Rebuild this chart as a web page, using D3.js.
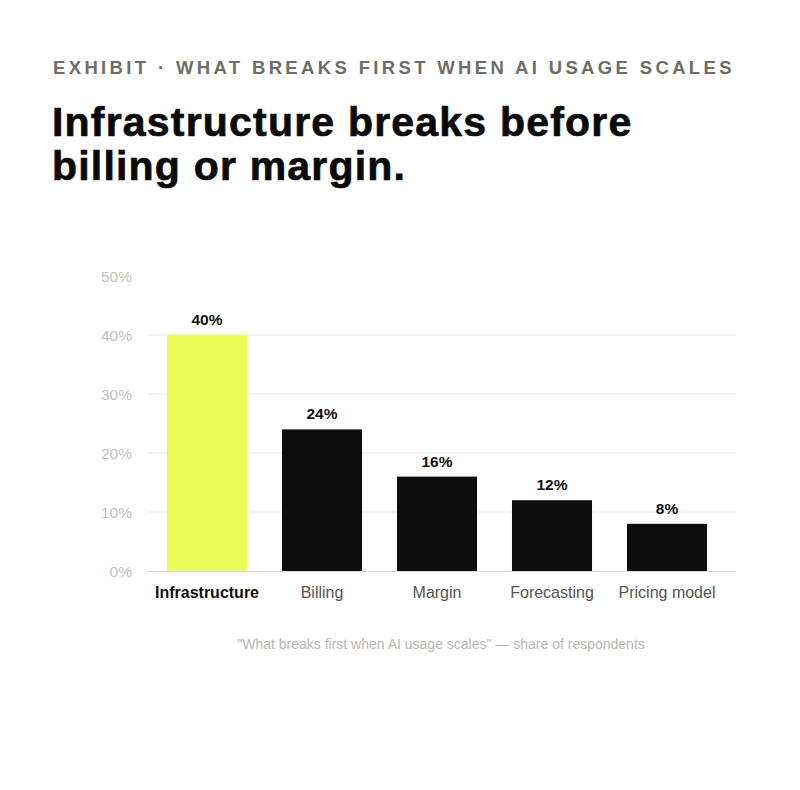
<!DOCTYPE html>
<html><head><meta charset="utf-8">
<script src="https://cdn.jsdelivr.net/npm/d3@7/dist/d3.min.js"></script>
<style>
html,body{margin:0;padding:0;background:#fff;}
svg{display:block;}
</style></head>
<body>
<svg id="chart" width="800" height="790"></svg>
<script>
const categories = ["Infrastructure", "Billing", "Margin", "Forecasting", "Pricing model"];
const values = [40, 24, 16, 12, 8];
const yTicks = [0, 10, 20, 30, 40, 50];
const highlight = "Infrastructure";
const kicker = "EXHIBIT · WHAT BREAKS FIRST WHEN AI USAGE SCALES";
const titleLines = ["Infrastructure breaks before", "billing or margin."];
const caption = "\"What breaks first when AI usage scales\" — share of respondents";

const svg = d3.select("#chart");
const font = "'Liberation Sans', Arial, Helvetica, sans-serif";

svg.append("text").attr("x", 53).attr("y", 74)
  .attr("font-family", font).attr("font-weight", 700).attr("font-size", 18.5)
  .attr("letter-spacing", 3.35).attr("fill", "#6e6e66").text(kicker);

svg.append("g").selectAll("text").data(titleLines).join("text")
  .attr("x", 52).attr("y", (d, i) => 136 + i * 44)
  .attr("font-family", font).attr("font-weight", 700).attr("font-size", 41)
  .attr("letter-spacing", 1.2)
  .attr("stroke", "#0a0a0a").attr("stroke-width", 0.7)
  .attr("fill", "#0a0a0a").text(d => d);

const plotLeft = 147, plotRight = 736;
const y = d3.scaleLinear().domain([0, 50]).range([571, 276]);
const x = d3.scaleBand().domain(categories).range([149.5, 724.5])
  .paddingInner(0.304).paddingOuter(0.152);

// gridlines
svg.append("g").selectAll("line").data(yTicks.filter(t => t > 0 && t < 50)).join("line")
  .attr("x1", plotLeft).attr("x2", plotRight)
  .attr("y1", d => y(d)).attr("y2", d => y(d))
  .attr("stroke", "#eeebe4").attr("stroke-width", 1);

// y axis tick labels
const yAxis = d3.axisLeft(y).tickValues(yTicks).tickFormat(d => d + "%").tickSize(0).tickPadding(0);
const yg = svg.append("g").attr("transform", `translate(132,0)`).call(yAxis);
yg.select(".domain").remove();
yg.selectAll("text").attr("font-family", font).attr("font-size", 15.5)
  .attr("fill", "#c4c2bc").attr("dy", "0.36em");

// bars
svg.append("g").selectAll("rect").data(categories).join("rect")
  .attr("x", d => x(d)).attr("width", x.bandwidth())
  .attr("y", (d, i) => y(values[i])).attr("height", (d, i) => y(0) - y(values[i]))
  .attr("fill", d => d === highlight ? "#eafc58" : "#0d0d0d");

// baseline
svg.append("line").attr("x1", plotLeft).attr("x2", plotRight)
  .attr("y1", y(0) + 0.5).attr("y2", y(0) + 0.5)
  .attr("stroke", "#dcd8d0").attr("stroke-width", 1.2);

// value labels
svg.append("g").selectAll("text").data(categories).join("text")
  .attr("x", d => x(d) + x.bandwidth() / 2)
  .attr("y", (d, i) => y(values[i]) - 10)
  .attr("text-anchor", "middle").attr("font-family", font).attr("font-weight", 700)
  .attr("font-size", 15.5).attr("fill", "#111").text((d, i) => values[i] + "%");

// x axis labels
const xAxis = d3.axisBottom(x).tickSize(0).tickPadding(0);
const xg = svg.append("g").attr("transform", `translate(0,${y(0)})`).call(xAxis);
xg.select(".domain").remove();
xg.selectAll("text").attr("font-family", font).attr("font-size", 16)
  .attr("dy", "1.7em")
  .attr("font-weight", d => d === highlight ? 700 : 400)
  .attr("fill", d => d === highlight ? "#111" : "#555");

svg.append("text").attr("x", 441).attr("y", 649).attr("text-anchor", "middle")
  .attr("font-family", font).attr("font-size", 14).attr("fill", "#b8b6b0").text(caption);
</script>
</body></html>
